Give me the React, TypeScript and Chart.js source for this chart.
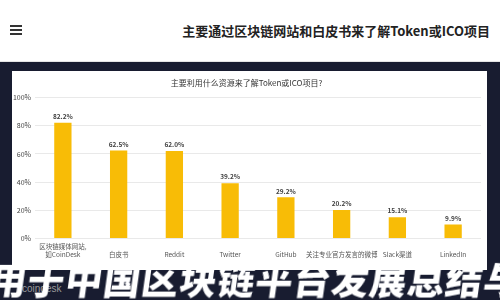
import React, { useEffect, useRef } from "react";
import { Chart, registerables } from "chart.js";

Chart.register(...registerables);

const pageTitle = "主要通过区块链网站和白皮书来了解Token或ICO项目";
const chartTitle = "主要利用什么资源来了解Token或ICO项目?";
const bannerText = "用于中国区块链平台发展总结与";
const categories: (string | string[])[] = [
  ["区块链媒体网站,", "如CoinDesk"],
  "白皮书",
  "Reddit",
  "Twitter",
  "GitHub",
  "关注专业官方发言的微博",
  "Slack渠道",
  "LinkedIn",
];
const values = [82.2, 62.5, 62.0, 39.2, 29.2, 20.2, 15.1, 9.9];
const yTicks = [0, 20, 40, 60, 80, 100];

const FONT = "'Noto Sans CJK SC', 'Noto Sans', sans-serif";

const valueLabels = {
  id: "valueLabels",
  afterDatasetsDraw(chart: any) {
    const ctx = chart.ctx;
    const meta = chart.getDatasetMeta(0);
    ctx.save();
    ctx.font = `bold 6.5px ${FONT}`;
    ctx.fillStyle = "#444";
    ctx.textAlign = "center";
    ctx.textBaseline = "bottom";
    meta.data.forEach((el: any, i: number) => {
      ctx.fillText(values[i].toFixed(1) + "%", el.x, el.y - 3);
    });
    ctx.restore();
  },
};

export default function App() {
  const ref = useRef<HTMLCanvasElement>(null);
  useEffect(() => {
    if (!ref.current) return;
    const chart = new Chart(ref.current, {
      type: "bar",
      data: {
        labels: categories,
        datasets: [
          {
            data: values,
            backgroundColor: "#F8BC06",
            barPercentage: 0.31,
            categoryPercentage: 1,
          },
        ],
      },
      options: {
        animation: false,
        responsive: false,
        layout: { padding: { left: 0, right: 6, top: 0, bottom: 0 } },
        plugins: {
          legend: { display: false },
          tooltip: { enabled: false },
          title: {
            display: true,
            text: chartTitle,
            color: "#333",
            font: { family: FONT, size: 8, weight: "normal" },
            padding: { top: 7, bottom: 10 },
          },
        },
        scales: {
          x: {
            grid: { display: false, drawTicks: false },
            border: { display: false },
            ticks: {
              color: "#555",
              font: { family: FONT, size: 6.5 },
              padding: 8,
              maxRotation: 0,
              autoSkip: false,
              crossAlign: "far",
            },
          },
          y: {
            min: 0,
            max: 100,
            afterFit: (s: any) => {
              s.width = 23;
            },
            afterBuildTicks: (s: any) => {
              s.ticks = yTicks.map((v) => ({ value: v }));
            },
            grid: { color: "#e9e9e9", drawTicks: false },
            border: { display: false },
            ticks: {
              color: "#444",
              font: { family: FONT, size: 7 },
              padding: 4,
              callback: (v: any) => v + "%",
            },
          },
        },
      },
      plugins: [valueLabels],
    });
    return () => chart.destroy();
  }, []);

  return (
    <div
      style={{
        position: "fixed",
        left: 0,
        top: 0,
        width: 500,
        height: 300,
        overflow: "hidden",
        background: "#181c30",
        fontFamily: FONT,
      }}
    >
      <div
        style={{
          position: "absolute",
          left: 0,
          top: 0,
          width: 500,
          height: 61,
          background: "#ffffff",
          borderBottom: "1px solid #e4e4e4",
        }}
      >
        {[0, 1, 2].map((i) => (
          <div
            key={i}
            style={{
              position: "absolute",
              left: 10,
              top: 25 + i * 4,
              width: 12,
              height: 2,
              background: "#333",
            }}
          />
        ))}
        <div
          style={{
            position: "absolute",
            right: 10,
            top: 22,
            fontSize: 13,
            lineHeight: "18px",
            fontWeight: 700,
            color: "#222",
            whiteSpace: "nowrap",
          }}
        >
          {pageTitle}
        </div>
      </div>
      <div
        style={{
          position: "absolute",
          left: 12,
          top: 71,
          width: 475,
          height: 199,
          background: "#ffffff",
        }}
      >
        <canvas ref={ref} width={475} height={199} style={{ display: "block" }} />
      </div>
      <div
        style={{
          position: "absolute",
          left: 22,
          top: 283,
          fontSize: 10,
          color: "#9a9a9a",
          fontFamily: "'Liberation Sans', sans-serif",
        }}
      >
        coindesk
      </div>
      <div
        style={{
          position: "absolute",
          left: -10,
          top: 259,
          fontSize: 37,
          lineHeight: "40px",
          letterSpacing: 1,
          fontWeight: 900,
          color: "#ffffff",
          whiteSpace: "nowrap",
          transform: "skewX(-8deg)",
        }}
      >
        {bannerText}
      </div>
    </div>
  );
}
